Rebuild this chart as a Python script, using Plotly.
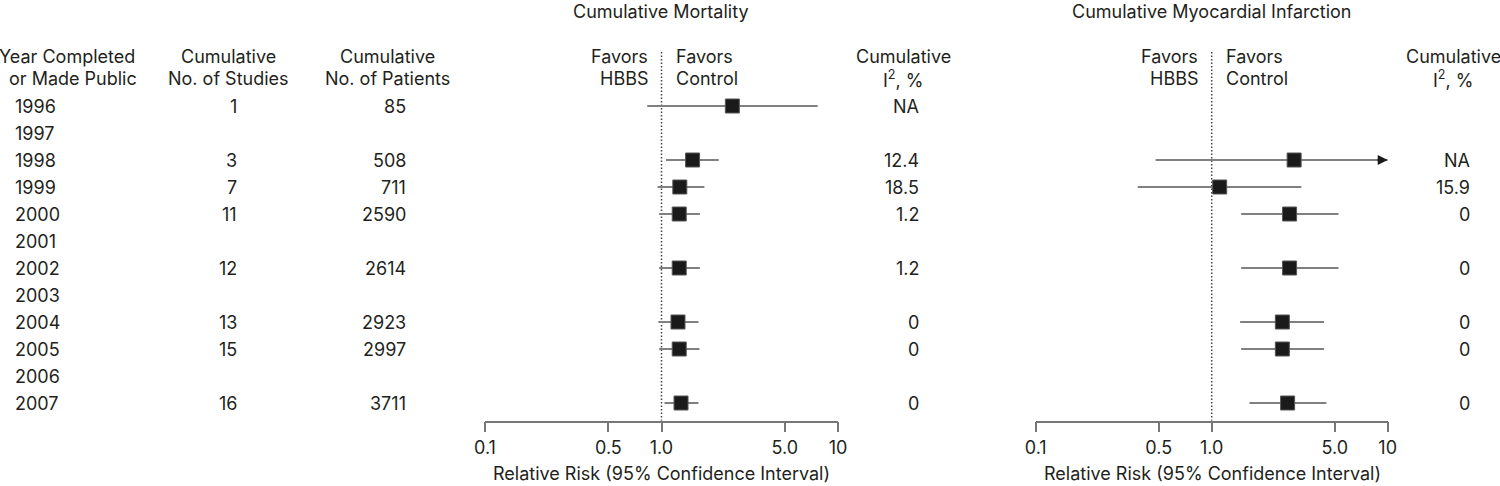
import numpy as np
import plotly.graph_objects as go

# ---------------- data ----------------
years = [1996, 1997, 1998, 1999, 2000, 2001, 2002, 2003, 2004, 2005, 2006, 2007]
n_studies = [1, None, 3, 7, 11, None, 12, None, 13, 15, None, 16]
n_patients = [85, None, 508, 711, 2590, None, 2614, None, 2923, 2997, None, 3711]

mort_rr = [2.52, None, 1.50, 1.27, 1.26, None, 1.26, None, 1.24, 1.26, None, 1.29]
mort_lo = [0.83, None, 1.06, 0.95, 0.97, None, 0.97, None, 0.96, 0.97, None, 1.04]
mort_hi = [7.67, None, 2.11, 1.75, 1.65, None, 1.65, None, 1.62, 1.64, None, 1.62]
mort_i2 = ["NA", "", "12.4", "18.5", "1.2", "", "1.2", "", "0", "0", "", "0"]

mi_rr = [None, None, 2.94, 1.11, 2.77, None, 2.77, None, 2.52, 2.52, None, 2.70]
mi_lo = [None, None, 0.48, 0.38, 1.47, None, 1.47, None, 1.45, 1.47, None, 1.64]
mi_hi = [None, None, 10.0, 3.23, 5.25, None, 5.25, None, 4.35, 4.35, None, 4.48]
mi_hi_beyond_axis = [False, False, True, False, False, False, False, False, False, False, False, False]
mi_i2 = ["", "", "NA", "15.9", "0", "", "0", "", "0", "0", "", "0"]

tick_vals = [0.1, 0.5, 1, 5, 10]
tick_text = ["0.1", "0.5", "1.0", "5.0", "10"]
x_min, x_max = 0.1, 10

# ---------------- geometry / style ----------------
W, H = 1500, 486
ROW0, STEP, AXIS_Y = 106, 27.0, 420.7
FONT = "Inter, Liberation Sans, Arial, sans-serif"
TXT = "#231f20"
FS = 18

def xp(px):
    return px / W

def yp(py):
    return 1 - py / H

rows = list(range(len(years)))

fig = go.Figure()

panels = [
    ("x", mort_rr, mort_lo, mort_hi, [False] * len(years)),
    ("x2", mi_rr, mi_lo, mi_hi, mi_hi_beyond_axis),
]

for xa, rr, lo, hi, beyond in panels:
    ya = "y"
    # reference line at RR = 1
    fig.add_trace(go.Scatter(
        x=[1, 1], y=[-2.0, (AXIS_Y - ROW0) / STEP], xaxis=xa, yaxis=ya,
        mode="lines", line=dict(color="#444444", width=1.5, dash="1.5px,2px"),
        hoverinfo="skip", showlegend=False))
    # confidence intervals
    cx, cy = [], []
    for i, (l, h) in enumerate(zip(lo, hi)):
        if l is None:
            continue
        cx += [l, min(h, x_max), None]
        cy += [i, i, None]
    fig.add_trace(go.Scatter(
        x=cx, y=cy, xaxis=xa, yaxis=ya, mode="lines",
        line=dict(color="#808080", width=2), hoverinfo="skip", showlegend=False))
    # point estimates
    px_, py_ = [], []
    for i, r in enumerate(rr):
        if r is None:
            continue
        px_.append(r)
        py_.append(i)
    fig.add_trace(go.Scatter(
        x=px_, y=py_, xaxis=xa, yaxis=ya, mode="markers",
        marker=dict(symbol="square", size=14, color="#1a1a1a",
                    line=dict(color="#555555", width=1)),
        showlegend=False))
    # arrows for intervals extending beyond the axis
    for i, b in enumerate(beyond):
        if b:
            fig.add_annotation(
                xref=xa, yref=ya, x=np.log10(x_max), y=i,
                axref="pixel", ayref="pixel", ax=-12, ay=0,
                text="", showarrow=True, arrowhead=2, arrowsize=2,
                arrowwidth=1, arrowcolor="#1a1a1a", standoff=0)


def ann(text, x, y, xanchor="center", xref="paper", yref="paper", xshift=0, size=FS):
    fig.add_annotation(text=text, x=x, y=y, xref=xref, yref=yref,
                       xanchor=xanchor, yanchor="middle", showarrow=False,
                       xshift=xshift, font=dict(family=FONT, size=size, color=TXT))

# table rows
for i in rows:
    ann(str(years[i]), xp(13), i, xanchor="left", yref="y")
    if n_studies[i] is not None:
        ann(str(n_studies[i]), xp(239), i, xanchor="right", yref="y")
    if n_patients[i] is not None:
        ann(str(n_patients[i]), xp(408), i, xanchor="right", yref="y")
    if mort_i2[i]:
        ann(mort_i2[i], xp(921), i, xanchor="right", yref="y")
    if mi_i2[i]:
        ann(mi_i2[i], xp(1472), i, xanchor="right", yref="y")

# column headers
H1, H2 = 57, 79
ann("Year Completed", xp(67), yp(H1))
ann("or Made Public", xp(73), yp(H2))
ann("Cumulative", xp(228), yp(H1))
ann("No. of Studies", xp(228), yp(H2))
ann("Cumulative", xp(387), yp(H1))
ann("No. of Patients", xp(387), yp(H2))
ann("Cumulative", xp(903), yp(H1))
ann("I<sup>2</sup>, %", xp(903), yp(H2))
ann("Cumulative", xp(1453), yp(H1))
ann("I<sup>2</sup>, %", xp(1453), yp(H2))

for xa in ["x", "x2"]:
    ann("Favors", 0, yp(H1), xanchor="right", xref=xa, xshift=-12)
    ann("HBBS", 0, yp(H2), xanchor="right", xref=xa, xshift=-12)
    ann("Favors", 0, yp(H1), xanchor="left", xref=xa, xshift=12)
    ann("Control", 0, yp(H2), xanchor="left", xref=xa, xshift=12)

# panel titles and axis titles
ann("Cumulative Mortality", xp(661), yp(11.5))
ann("Cumulative Myocardial Infarction", xp(1212), yp(11.5))
ann("Relative Risk (95% Confidence Interval)", xp(661.5), yp(473))
ann("Relative Risk (95% Confidence Interval)", xp(1212), yp(473))

axis_common = dict(
    type="log", range=[np.log10(x_min), np.log10(x_max)],
    tickvals=tick_vals, ticktext=tick_text,
    ticks="outside", ticklen=10, tickwidth=1.5, tickcolor="#777777",
    showline=True, linecolor="#777777", linewidth=1.5,
    showgrid=False, zeroline=False, anchor="y", automargin=False,
    tickfont=dict(family=FONT, size=FS, color=TXT), fixedrange=True,
)

fig.update_layout(
    template="none",
    width=W, height=H,
    margin=dict(l=0, r=0, t=0, b=0, pad=0, autoexpand=False),
    paper_bgcolor="white", plot_bgcolor="white",
    showlegend=False,
    xaxis=dict(domain=[xp(485), xp(838)], **axis_common),
    xaxis2=dict(domain=[xp(1035.7), xp(1387.7)], **axis_common),
    yaxis=dict(domain=[yp(AXIS_Y), 1],
               range=[(AXIS_Y - ROW0) / STEP, -ROW0 / STEP],
               visible=False, fixedrange=True, automargin=False),
)

fig.write_html(
    "out.html",
    config={"displayModeBar": False, "responsive": False},
    post_script="document.body.style.margin='0';document.body.style.overflow='hidden';",
)
